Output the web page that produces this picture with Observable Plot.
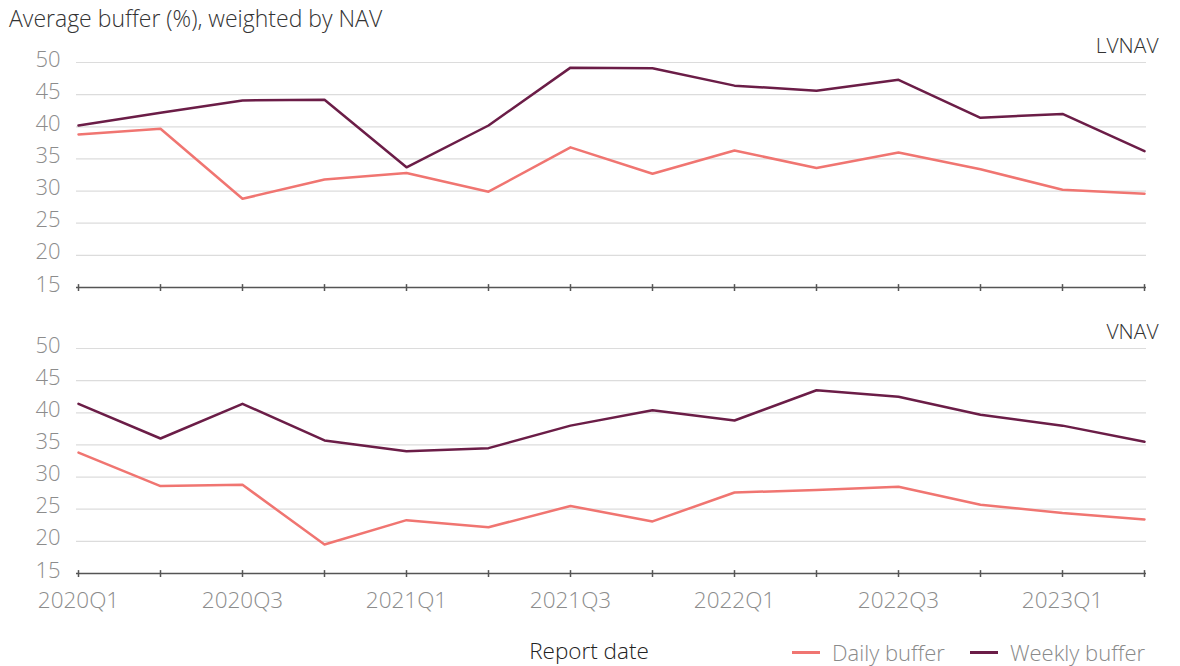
<!DOCTYPE html>
<html>
<head>
<meta charset="utf-8">
<script src="https://cdn.jsdelivr.net/npm/d3@7"></script>
<script src="https://cdn.jsdelivr.net/npm/@observablehq/plot@0.6"></script>
<style>
  html, body { margin: 0; padding: 0; background: #fff; }
  body { width: 1180px; height: 666px; position: relative; overflow: hidden; font-family: "Open Sans", Lato, sans-serif; font-weight: 300; }
  #title { position: absolute; left: 9px; top: 2px; font-size: 23px; color: #333; }
  #chart { position: absolute; left: 0; top: 0; }
  #xlabel { position: absolute; left: 589px; top: 635px; transform: translateX(-50%); font-size: 22.5px; color: #222; }
  #legend { position: absolute; left: 792px; top: 637px; font-size: 22px; color: #8a8a8a; display: flex; align-items: center; }
  .sw { display: inline-block; width: 28px; height: 3px; margin-right: 12px; }
  .item { display: flex; align-items: center; margin-right: 25px; }
</style>
</head>
<body>
<div id="chart"></div>
<div id="title">Average buffer (%), weighted by NAV</div>
<div id="xlabel">Report date</div>
<div id="legend"></div>
<script>
const quarters = ["2020Q1","2020Q2","2020Q3","2020Q4","2021Q1","2021Q2","2021Q3","2021Q4","2022Q1","2022Q2","2022Q3","2022Q4","2023Q1","2023Q2"];
const panels = ["LVNAV", "VNAV"];
const seriesNames = ["Daily buffer", "Weekly buffer"];
const seriesColors = ["#f07571", "#6b1d47"];
const lvnavDaily  = [38.8, 39.7, 28.8, 31.8, 32.8, 29.9, 36.8, 32.7, 36.3, 33.6, 36.0, 33.4, 30.2, 29.6];
const lvnavWeekly = [40.2, 42.2, 44.1, 44.2, 33.7, 40.2, 49.2, 49.1, 46.4, 45.6, 47.3, 41.4, 42.0, 36.2];
const vnavDaily   = [33.8, 28.6, 28.8, 19.5, 23.3, 22.2, 25.5, 23.1, 27.6, 28.0, 28.5, 25.7, 24.4, 23.4];
const vnavWeekly  = [41.4, 36.0, 41.4, 35.7, 34.0, 34.5, 38.0, 40.4, 38.8, 43.5, 42.5, 39.7, 38.0, 35.5];
const yTicks = [15, 20, 25, 30, 35, 40, 45, 50];
const gridTicks = [20, 25, 30, 35, 40, 45, 50];
const xLabelTicks = quarters.filter((d, i) => i % 2 === 0);
const yMin = 15;

const source = {
  LVNAV: [lvnavDaily, lvnavWeekly],
  VNAV: [vnavDaily, vnavWeekly]
};
const rows = [];
for (const p of panels) {
  seriesNames.forEach((s, si) => {
    quarters.forEach((q, qi) => rows.push({panel: p, series: s, quarter: q, value: source[p][si][qi]}));
  });
}
const tickRows = [];
for (const p of panels) for (const q of quarters) tickRows.push({panel: p, quarter: q});

const chart = Plot.plot({
  width: 1180,
  height: 620,
  marginLeft: 76,
  marginRight: 34,
  marginTop: 62,
  marginBottom: 46,
  style: {fontFamily: "'Open Sans', Lato, sans-serif", fontWeight: 300, background: "transparent"},
  x: {type: "point", domain: quarters, padding: 0},
  y: {type: "linear", domain: [15, 50]},
  fy: {domain: panels, paddingInner: 0.213, paddingOuter: 0, axis: null},
  color: {domain: seriesNames, range: seriesColors},
  marks: [
    Plot.gridY(gridTicks, {stroke: "#dcdcdc", strokeOpacity: 1, strokeWidth: 1.2}),
    Plot.axisY(yTicks, {tickSize: 0, tickPadding: 16, dy: -3, fontSize: 22, fill: "#8c8c8c", label: null}),
    Plot.ruleY([yMin], {stroke: "#555", strokeWidth: 1.5}),
    Plot.ruleX(tickRows, {x: "quarter", fy: "panel", y1: yMin - 0.62, y2: yMin + 0.45, stroke: "#555", strokeWidth: 1.5}),
    Plot.axisX(xLabelTicks, {tickSize: 0, tickPadding: 19, fontSize: 22.5, fill: "#8c8c8c", label: null}),
    Plot.line(rows, {x: "quarter", y: "value", z: "series", stroke: "series", fy: "panel", strokeWidth: 2.5}),
    Plot.text(panels, {fy: d => d, text: d => d, frameAnchor: "top-right", dx: 12, dy: -24, fontSize: 21, fill: "#333", textAnchor: "end"})
  ]
});
document.getElementById("chart").appendChild(chart);

const legend = document.getElementById("legend");
seriesNames.forEach((s, i) => {
  const item = document.createElement("div");
  item.className = "item";
  const sw = document.createElement("span");
  sw.className = "sw";
  sw.style.background = seriesColors[i];
  const t = document.createElement("span");
  t.textContent = s;
  item.appendChild(sw);
  item.appendChild(t);
  legend.appendChild(item);
});
</script>
</body>
</html>
